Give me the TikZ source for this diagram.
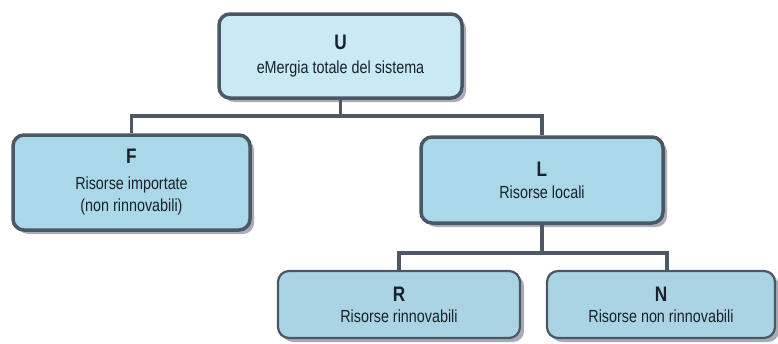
\documentclass[tikz,border=0pt]{standalone}
\usepackage{fontspec}
\setmainfont[FakeStretch=0.82]{Liberation Sans}
\usetikzlibrary{shadows}
\definecolor{bordc}{HTML}{4A5866}
\definecolor{linec}{HTML}{4D5864}
\definecolor{fillU}{HTML}{C9E9F4}
\definecolor{fillB}{HTML}{AAD8E8}
\definecolor{fillC}{HTML}{AAD4E3}
\definecolor{shadc}{HTML}{A9ACB4}
\definecolor{textc}{HTML}{18222A}
\tikzset{
  box/.style={draw=bordc, line width=3.5pt, rounded corners=11pt, align=center,
    inner sep=0pt, text=textc, font=\fontsize{17.5}{21}\selectfont,
    drop shadow={shadow xshift=4pt, shadow yshift=-4pt, fill=shadc, opacity=1}},
  boxthin/.style={box, line width=2.2pt, fill=fillC},
  conn/.style={draw=linec, line width=3.5pt},
}
\newcommand{\lett}[1]{{\fontsize{21}{21}\selectfont\bfseries #1}}
\begin{document}
\begin{tikzpicture}[x=1pt,y=-1pt]
\useasboundingbox (0,0) rectangle (778,343);
\node[box, fill=fillU, minimum width=243pt, minimum height=84pt] (U) at (340.5,56)
  {\lett{U}\\[3pt]eMergia totale del sistema};
\node[box, fill=fillB, minimum width=237pt, minimum height=95pt] (F) at (131.5,182.5)
  {\lett{F}\\[5pt]Risorse importate\\[1pt](non rinnovabili)};
\node[box, fill=fillB, minimum width=242pt, minimum height=86pt] (L) at (542,180)
  {\lett{L}\\[1pt]Risorse locali};
\node[boxthin, minimum width=242pt, minimum height=67pt] (R) at (399,304.5)
  {\lett{R}\\[0pt]Risorse rinnovabili};
\node[boxthin, minimum width=228pt, minimum height=67pt] (N) at (661,304.5)
  {\lett{N}\\[0pt]Risorse non rinnovabili};
\coordinate (b1) at (340.5,116);
\coordinate (b2) at (542,253);
\draw[conn] (U.south) -- (b1);
\draw[conn] (F.north) |- (b1) -| (L.north);
\draw[conn] (L.south) -- (b2);
\draw[conn] (R.north) |- (b2) -| ([xshift=6pt]N.north);
\end{tikzpicture}
\end{document}
